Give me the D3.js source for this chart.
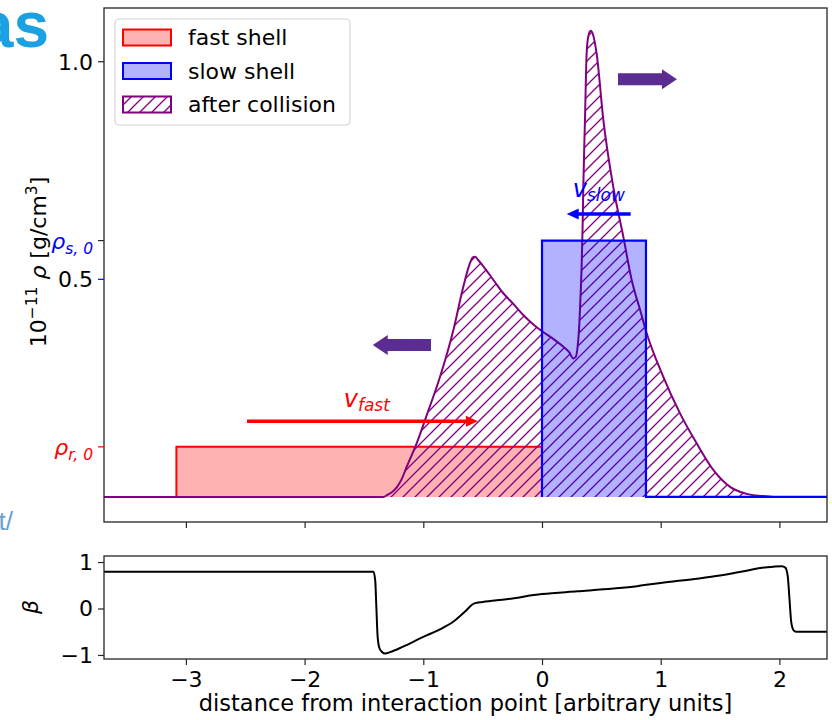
<!DOCTYPE html>
<html>
<head>
<meta charset="utf-8">
<script src="https://cdn.jsdelivr.net/npm/d3@7"></script>
<style>
  body { margin: 0; background: #fff; }
  svg { display: block; font-family: "DejaVu Sans", sans-serif; }
</style>
</head>
<body>
<svg id="chart" width="832" height="720"></svg>
<script>
// ---- data -------------------------------------------------------------
const xTicks = [-3, -2, -1, 0, 1, 2];
const betaTicks = [1, 0, -1];
const rhoTickValues = [1.0, 0.589, 0.5, 0.115];
const rhoTickLabels = ["1.0", "rho_s", "0.5", "rho_r"];

// initial shells (x, density in 1e-11 g/cm^3)
const fastX = [-3.69, -3.08, -3.08, 0, 0];
const fastRho = [0, 0, 0.115, 0.115, 0];
const slowX = [0, 0, 0.876, 0.876, 2.40];
const slowRho = [0, 0.589, 0.589, 0, 0];

// density profile after the collision
const afterX = [-3.69, -1.40, -1.337, -1.30, -1.26, -1.224, -1.18, -1.14, -1.056, -0.971, -0.859,
  -0.747, -0.663, -0.607, -0.585, -0.564, -0.54, -0.494, -0.40, -0.326, -0.24, -0.158, -0.08,
  0.005, 0.10, 0.18, 0.23, 0.264, 0.285, 0.300, 0.315, 0.326, 0.334, 0.342, 0.348, 0.362,
  0.376, 0.39, 0.41, 0.43, 0.46, 0.517, 0.60, 0.685, 0.756, 0.826, 0.882, 1.022, 1.163,
  1.303, 1.443, 1.584, 1.724, 1.85, 1.95, 2.40];
const afterRho = [0, 0, 0, 0.005, 0.012, 0.022, 0.042, 0.069, 0.123, 0.188, 0.276,
  0.383, 0.483, 0.537, 0.550, 0.552, 0.545, 0.530, 0.495, 0.468, 0.443, 0.418, 0.398,
  0.380, 0.362, 0.345, 0.332, 0.318, 0.322, 0.345, 0.40, 0.47, 0.53, 0.62, 0.713, 0.866,
  1.019, 1.058, 1.071, 1.062, 1.019, 0.866, 0.713, 0.598, 0.498, 0.43, 0.376, 0.276, 0.192,
  0.123, 0.062, 0.023, 0.007, 0.002, 0, 0];

// velocity beta = v/c after the collision
const betaX = [-3.69, -1.42, -1.405, -1.395, -1.385, -1.37, -1.35, -1.32, -1.28, -1.17, -1.0,
  -0.86, -0.74, -0.65, -0.57, -0.50, -0.3, 0, 0.3, 0.6, 0.8, 1.0, 1.3, 1.5, 1.7, 1.84, 1.95,
  2.02, 2.05, 2.07, 2.085, 2.10, 2.12, 2.14, 2.40];
const betaVal = [0.79, 0.79, 0.6, 0.0, -0.6, -0.85, -0.93, -0.97, -0.94, -0.82, -0.61,
  -0.45, -0.27, -0.07, 0.11, 0.14, 0.2, 0.31, 0.37, 0.43, 0.48, 0.55, 0.64, 0.71, 0.80, 0.87, 0.90,
  0.91, 0.88, 0.7, 0.2, -0.3, -0.47, -0.5, -0.5];

// annotation arrows: [tail x, head x, y] in data units
const fastArrow = [-2.485, -0.54, 0.174];
const slowArrow = [0.747, 0.208, 0.650];
const fwdShockArrow = [0.64, 1.137, 0.960];
const revShockArrow = [-0.935, -1.426, 0.349];
const fastLabelPos = [-1.67, 0.207];
const slowLabelPos = [0.259, 0.689];

// ---- layout ------------------------------------------------------------
const svg = d3.select("#chart");
const L = 104, R = 827;
const top1 = 8, bot1 = 522;
const top2 = 556, bot2 = 659;
const FS = 22;

const x = d3.scaleLinear().domain([-3.69, 2.401]).range([L, R]);
const y = d3.scaleLinear().domain([-0.0577, 1.1235]).range([bot1, top1]);
const yb = d3.scaleLinear().domain([-1.087, 1.13]).range([bot2, top2]);

const RED = "#ff0000", BLUE = "#0000ff", PURPLE = "#800080", ARROWP = "#5b2c91";

// slide remnants around the figure
svg.append("text").attr("x", 49).attr("y", 47).attr("text-anchor", "end")
  .style("font-family", "'Liberation Sans', Arial, sans-serif").style("font-weight", "bold")
  .style("font-size", "64px").attr("fill", "#1ba1e2").text("as");
svg.append("text").attr("x", 13).attr("y", 530).attr("text-anchor", "end")
  .style("font-family", "'Liberation Sans', Arial, sans-serif")
  .style("font-size", "26px").attr("fill", "#6a9fd8").text("t/");

const defs = svg.append("defs");
const hatch = defs.append("pattern").attr("id", "hatch")
  .attr("patternUnits", "userSpaceOnUse").attr("width", 12).attr("height", 12);
hatch.append("path").attr("d", "M-3,3 l6,-6 M0,12 l12,-12 M9,15 l6,-6")
  .attr("stroke", PURPLE).attr("stroke-width", 1.3);
defs.append("clipPath").attr("id", "clip1").append("rect")
  .attr("x", L).attr("y", top1).attr("width", R - L).attr("height", bot1 - top1);
defs.append("clipPath").attr("id", "clip2").append("rect")
  .attr("x", L).attr("y", top2).attr("width", R - L).attr("height", bot2 - top2);

// ---- density panel -----------------------------------------------------
const g1 = svg.append("g").attr("clip-path", "url(#clip1)");
const zip = (xs, ys) => xs.map((v, i) => [v, ys[i]]);
const line = d3.line().x(d => x(d[0])).y(d => y(d[1]));
const area = d3.area().x(d => x(d[0])).y0(y(0)).y1(d => y(d[1]));

g1.append("path").datum(zip(fastX, fastRho)).attr("d", area).attr("fill", RED).attr("fill-opacity", 0.3);
g1.append("path").datum(zip(fastX, fastRho)).attr("d", line).attr("fill", "none")
  .attr("stroke", RED).attr("stroke-width", 2);

const smooth = d3.line().x(d => x(d[0])).y(d => y(d[1])).curve(d3.curveMonotoneX);
const smoothArea = d3.area().x(d => x(d[0])).y0(y(0)).y1(d => y(d[1])).curve(d3.curveMonotoneX);
g1.append("path").datum(zip(afterX, afterRho)).attr("d", smoothArea).attr("fill", "url(#hatch)");
g1.append("path").datum(zip(afterX, afterRho)).attr("d", smooth).attr("fill", "none")
  .attr("stroke", PURPLE).attr("stroke-width", 2);

g1.append("path").datum(zip(slowX, slowRho)).attr("d", area).attr("fill", BLUE).attr("fill-opacity", 0.3);
g1.append("path").datum(zip(slowX, slowRho)).attr("d", line).attr("fill", "none")
  .attr("stroke", BLUE).attr("stroke-width", 2.2);

// thin arrows with velocity labels
function thinArrow(a, color) {
  const x0 = x(a[0]), x1 = x(a[1]), yy = y(a[2]);
  const dir = Math.sign(x1 - x0), hl = 12, hw = 5.5;
  svg.append("line").attr("x1", x0).attr("x2", x1 - dir * hl * 0.6).attr("y1", yy).attr("y2", yy)
    .attr("stroke", color).attr("stroke-width", 3.5);
  svg.append("path").attr("d", `M${x1},${yy} L${x1 - dir * hl},${yy - hw} L${x1 - dir * hl},${yy + hw} Z`)
    .attr("fill", color);
}
thinArrow(fastArrow, RED);
thinArrow(slowArrow, BLUE);

function vLabel(pos, sub, color) {
  const t = svg.append("text").attr("x", x(pos[0])).attr("y", y(pos[1]))
    .attr("fill", color).style("font-style", "italic");
  t.append("tspan").style("font-size", "24px").text("v");
  t.append("tspan").style("font-size", "17px").attr("dy", 4).text(sub);
}
vLabel(fastLabelPos, "fast", RED);
vLabel(slowLabelPos, "slow", BLUE);

// block arrows marking the shocks
function blockArrow(a) {
  const x0 = x(a[0]), x1 = x(a[1]), yy = y(a[2]);
  const dir = Math.sign(x1 - x0), hl = 15, bw = 6, hw = 10;
  const xb = x1 - dir * hl;
  svg.append("path").attr("d",
    `M${x0},${yy - bw} L${xb},${yy - bw} L${xb},${yy - hw} L${x1},${yy} L${xb},${yy + hw} L${xb},${yy + bw} L${x0},${yy + bw} Z`)
    .attr("fill", ARROWP);
}
blockArrow(fwdShockArrow);
blockArrow(revShockArrow);

// frame and ticks of the density panel
svg.append("rect").attr("x", L).attr("y", top1).attr("width", R - L).attr("height", bot1 - top1)
  .attr("fill", "none").attr("stroke", "#262626").attr("stroke-width", 1.3);
svg.append("g").attr("transform", `translate(0,${bot1})`)
  .call(d3.axisBottom(x).tickValues(xTicks).tickSize(6).tickFormat(""))
  .call(g => g.select(".domain").remove())
  .call(g => g.selectAll("line").attr("stroke", "#262626").attr("stroke-width", 1.2));

const tickColors = ["#262626", "#262626", BLUE, RED];
const labelColors = ["#000", BLUE, "#000", RED];
rhoTickValues.forEach((v, i) => {
  svg.append("line").attr("x1", L - 6).attr("x2", L).attr("y1", y(v)).attr("y2", y(v))
    .attr("stroke", tickColors[i]).attr("stroke-width", 1.2);
  const t = svg.append("text").attr("x", L - 11).attr("y", y(v)).attr("dy", "0.36em")
    .attr("text-anchor", "end").attr("fill", labelColors[i]).style("font-size", FS + "px");
  const lab = rhoTickLabels[i];
  if (lab.startsWith("rho")) {
    t.append("tspan").style("font-style", "italic").text("ρ");
    t.append("tspan").style("font-style", "italic").style("font-size", "15.5px").attr("dy", 5)
      .text(lab === "rho_s" ? "s, 0" : "r, 0");
  } else {
    t.text(lab);
  }
});

const yl = svg.append("text").attr("transform", `translate(46,262) rotate(-90)`)
  .attr("text-anchor", "middle").style("font-size", FS + "px").attr("fill", "#000");
yl.append("tspan").text("10");
yl.append("tspan").style("font-size", "15.5px").attr("dy", -9).text("−11");
yl.append("tspan").attr("dy", 9).text(" ");
yl.append("tspan").style("font-style", "italic").text("ρ");
yl.append("tspan").text(" [g/cm");
yl.append("tspan").style("font-size", "15.5px").attr("dy", -9).text("3");
yl.append("tspan").attr("dy", 9).text("]");

// legend
const lg = svg.append("g");
lg.append("rect").attr("x", 115).attr("y", 19).attr("width", 235).attr("height", 106).attr("rx", 4)
  .attr("fill", "#fff").attr("fill-opacity", 0.8).attr("stroke", "#d4d4d4").attr("stroke-width", 1.2);
const legendItems = [
  { label: "fast shell", fill: RED, op: 0.3, stroke: RED },
  { label: "slow shell", fill: BLUE, op: 0.3, stroke: BLUE },
  { label: "after collision", fill: "url(#hatch)", op: 1, stroke: PURPLE }
];
legendItems.forEach((d, i) => {
  const yy = 29.5 + i * 33.5;
  lg.append("rect").attr("x", 123).attr("y", yy).attr("width", 48).attr("height", 16)
    .attr("fill", d.fill).attr("fill-opacity", d.op).attr("stroke", d.stroke).attr("stroke-width", 2);
  lg.append("text").attr("x", 188).attr("y", yy + 15.5).style("font-size", "22px")
    .attr("fill", "#000").text(d.label);
});

// ---- velocity panel ----------------------------------------------------
const g2 = svg.append("g").attr("clip-path", "url(#clip2)");
const bline = d3.line().x(d => x(d[0])).y(d => yb(d[1])).curve(d3.curveMonotoneX);
g2.append("path").datum(zip(betaX, betaVal)).attr("d", bline).attr("fill", "none")
  .attr("stroke", "#000").attr("stroke-width", 2);

svg.append("rect").attr("x", L).attr("y", top2).attr("width", R - L).attr("height", bot2 - top2)
  .attr("fill", "none").attr("stroke", "#262626").attr("stroke-width", 1.3);

const fmt = d => d < 0 ? "−" + Math.abs(d) : String(d);
svg.append("g").attr("transform", `translate(0,${bot2})`)
  .call(d3.axisBottom(x).tickValues(xTicks).tickSize(6).tickPadding(6).tickFormat(fmt))
  .call(g => g.select(".domain").remove())
  .call(g => g.selectAll("line").attr("stroke", "#262626").attr("stroke-width", 1.2))
  .call(g => g.selectAll("text").attr("fill", "#000").style("font-size", FS + "px")
    .style("font-family", "'DejaVu Sans', sans-serif"));
svg.append("g").attr("transform", `translate(${L},0)`)
  .call(d3.axisLeft(yb).tickValues(betaTicks).tickSize(6).tickPadding(5).tickFormat(fmt))
  .call(g => g.select(".domain").remove())
  .call(g => g.selectAll("line").attr("stroke", "#262626").attr("stroke-width", 1.2))
  .call(g => g.selectAll("text").attr("fill", "#000").style("font-size", FS + "px")
    .style("font-family", "'DejaVu Sans', sans-serif"));

svg.append("text").attr("transform", `translate(38,607) rotate(-90)`).attr("text-anchor", "middle")
  .style("font-size", FS + "px").style("font-style", "italic").attr("fill", "#000").text("β");
svg.append("text").attr("x", (L + R) / 2).attr("y", 711).attr("text-anchor", "middle")
  .style("font-size", "22.5px").attr("fill", "#000")
  .text("distance from interaction point [arbitrary units]");
</script>
</body>
</html>
